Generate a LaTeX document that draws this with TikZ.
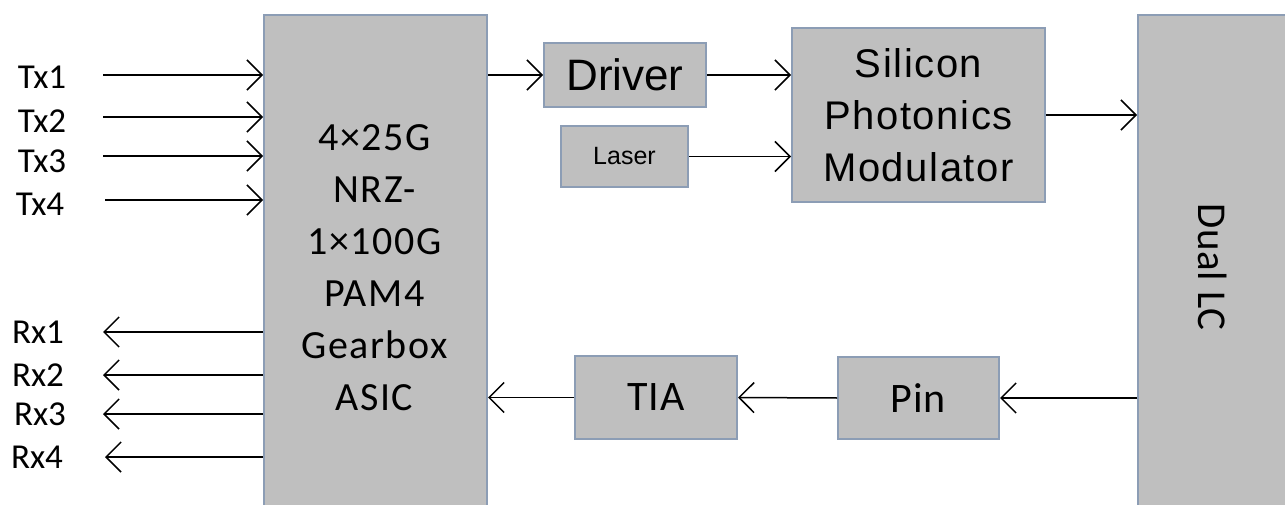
\documentclass[tikz,border=0pt]{standalone}
\usepackage{fontspec}
\setmainfont{Carlito}
\newfontfamily\calsp[LetterSpace=4]{Carlito}
\newfontfamily\calsm[LetterSpace=2]{Carlito}
\newfontfamily\arial{Liberation Sans}
\newfontfamily\arialsp[LetterSpace=4]{Liberation Sans}
\usetikzlibrary{arrows.meta}
\definecolor{boxfill}{RGB}{191,191,191}
\definecolor{boxedge}{RGB}{140,157,181}
\tikzset{
  blk/.style={draw=boxedge, fill=boxfill, line width=2pt, inner sep=0pt, align=center},
  conn/.style={line width=1.5pt, -{Straight Barb[length=15pt,width=30pt,line width=1.5pt]}},
  lbl/.style={inner sep=0pt, font=\fontsize{35}{40}\selectfont}
}
\begin{document}
\begin{tikzpicture}[x=1pt,y=-1pt]
\useasboundingbox (0,0) rectangle (1285,505);
\clip (0,0) rectangle (1285,505);
% big blocks
\node[blk, anchor=north west, minimum width=223pt, minimum height=506pt] (asic) at (263,14) {};
\node[align=center, inner sep=0pt, font=\calsp\fontsize{40}{52}\selectfont] (asictxt) at (374.5,267.5) {4×25G\\NRZ-\\1×100G\\PAM4\\Gearbox\\ASIC};
\node[blk, anchor=north west, minimum width=200pt, minimum height=506pt] (dual) at (1137,14) {};
\node[rotate=-90, inner sep=0pt, font=\calsm\fontsize{41}{48}\selectfont] (dualtxt) at (1213,267) {Dual LC};
% transmit path
\node[blk, minimum width=162pt, minimum height=64pt, font=\arial\fontsize{44}{48}\selectfont] (driver) at (625,75) {Driver};
\node[blk, minimum width=127pt, minimum height=61pt, font=\arial\fontsize{25}{30}\selectfont] (laser) at (624.5,156.5) {Laser};
\node[blk, minimum width=253pt, minimum height=174pt, font=\arialsp\fontsize{40}{52}\selectfont] (mod) at (918.5,115) {Silicon\\Photonics\\Modulator};
% receive path
\node[blk, minimum width=162pt, minimum height=83pt, font=\calsm\fontsize{42}{48}\selectfont] (tia) at (656,397.5) {TIA};
\node[blk, minimum width=161pt, minimum height=82pt, font=\calsm\fontsize{42}{48}\selectfont] (pin) at (918.5,398) {Pin};
% labels
\node[lbl] (tx1) at (42,77) {Tx1};
\node[lbl] (tx2) at (42,121) {Tx2};
\node[lbl] (tx3) at (42,161) {Tx3};
\node[lbl] (tx4) at (40,204) {Tx4};
\node[lbl] (rx1) at (38,332) {Rx1};
\node[lbl] (rx2) at (38,375) {Rx2};
\node[lbl] (rx3) at (40,414) {Rx3};
\node[lbl] (rx4) at (37,457) {Rx4};
% free ends of the side arrows
\coordinate (t1) at (103,75);
\coordinate (t2) at (103,117);
\coordinate (t3) at (103,156);
\coordinate (t4) at (105,200);
\coordinate (r1) at (103,332);
\coordinate (r2) at (103,375);
\coordinate (r3) at (103,414);
\coordinate (r4) at (105,457);
\foreach \c in {t1,t2,t3,t4} \draw[conn] (\c) -- (asic.west |- \c);
\foreach \c in {r1,r2,r3,r4} \draw[conn] (asic.west |- \c) -- (\c);
% connectors
\draw[conn] (asic.east |- driver) -- (driver.west);
\draw[conn] (driver.east) -- (mod.west |- driver);
\draw[conn] (laser.east) -- (mod.west |- laser);
\draw[conn] (mod.east) -- (dual.west |- mod);
\draw[conn] (dual.west |- pin) -- (pin.east);
\draw[conn] (pin.west) -- (tia.east);
\draw[conn] (tia.west) -- (asic.east |- tia);
\end{tikzpicture}
\end{document}
